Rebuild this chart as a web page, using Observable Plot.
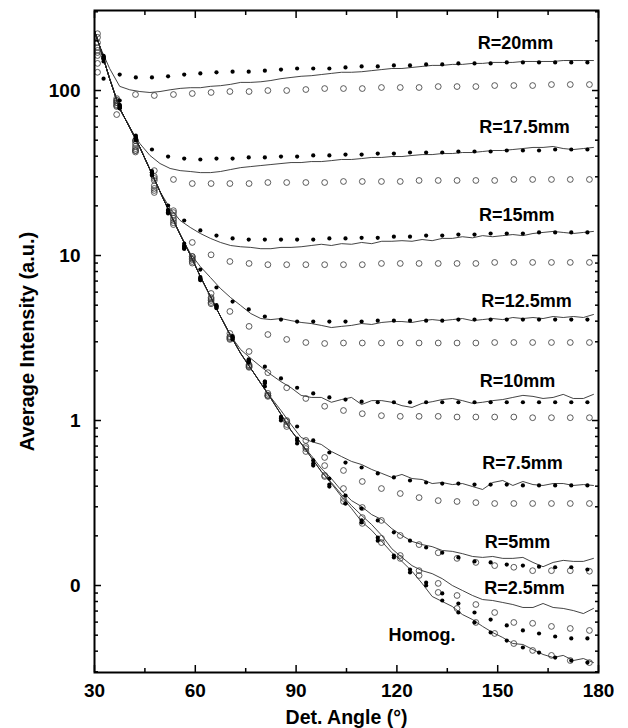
<!DOCTYPE html>
<html><head><meta charset="utf-8">
<script src="https://cdn.jsdelivr.net/npm/d3@7"></script>
<script src="https://cdn.jsdelivr.net/npm/@observablehq/plot@0.6"></script>
<style>body{margin:0;background:#fff}</style>
</head><body><div id="chart"></div>
<script>
// ---------- data ----------
const seriesNames = ["R=20mm","R=17.5mm","R=15mm","R=12.5mm","R=10mm","R=7.5mm","R=5mm","R=2.5mm","Homog."];

const lineAngles = [30,31.5,34.5,37.5,40.5,43.5,46.5,49.5,52.5,55.5,58.5,61.5,64.5,67.5,70.5,73.5,76.5,79.5,82.5,85.5,88.5,91.5,94.5,97.5,100.5,103.5,106.5,109.5,112.5,115.5,118.5,121.5,124.5,127.5,130.5,133.5,136.5,139.5,142.5,145.5,148.5,151.5,154.5,157.5,160.5,163.5,166.5,169.5,172.5,175.5,178.5];
const filledAngles = [32.7,37.5,42.3,47.1,51.9,56.7,61.5,66.3,71.1,75.9,80.7,85.5,90.3,95.1,99.9,104.7,109.5,114.3,119.1,123.9,128.7,133.5,138.3,143.1,147.9,152.7,157.5,162.3,167.1,171.9,176.7];
const openAngles = [30.9,36.6,42.2,47.8,53.5,59.1,64.7,70.3,76.0,81.6,87.2,92.9,98.5,104.1,109.7,115.4,121.0,126.6,132.3,137.9,143.5,149.1,154.8,160.4,166.0,171.6,177.3];

// solid lines
const line20 = [221,187,136,106,101,98.6,97.3,98.6,101,103,104,104,106,107,109,112,112,113,115,118,120,122,123,125,127,129,129,130,132,134,136,136,138,140,142,142,144,144,146,146,148,148,148,150,150,150,150,152,152,152,152];
const line175 = [231,187,118,77.8,59.7,47.7,40.4,36.1,33.7,32.7,32.3,31.8,31.8,32.3,33.2,34.1,34.6,35.1,35.6,36.1,36.6,36.6,37.1,37.1,37.6,38.2,38.2,38.7,39.3,39.3,39.8,39.8,40.4,40.9,40.9,41.5,41.5,42.1,42.1,42.7,43.3,43.3,43.9,44.5,45.2,45.2,45.8,44.5,43.9,44.5,45.2];
const line15 = [231,187,118,77.8,59.7,45.2,33.2,24.4,19.3,16.3,14.8,13.6,12.7,12.0,11.5,11.3,11.2,11.0,11.0,11.2,11.2,11.3,11.5,11.7,11.5,11.8,11.7,12.0,11.8,12.2,12.2,12.3,12.2,12.5,12.3,12.7,12.7,13.0,12.8,13.2,13.0,13.2,13.4,13.2,13.6,13.8,14.0,13.8,13.6,13.8,14.0];
const line125 = [231,187,118,77.8,59.7,45.2,33.2,24.4,18.0,13.4,10.3,8.57,7.36,6.31,5.56,4.98,4.45,4.15,4.09,4.15,4.03,3.93,3.87,3.77,3.66,3.72,3.77,3.87,3.82,3.93,3.98,3.98,3.93,4.03,4.09,4.03,4.09,4.15,4.03,4.09,4.15,4.09,4.21,4.15,4.21,4.15,4.27,4.21,4.27,4.21,4.39];
const line10 = [231,187,118,77.8,59.7,45.2,33.2,24.4,18.0,13.4,10.1,7.46,5.65,4.27,3.27,2.69,2.38,2.12,1.90,1.72,1.58,1.42,1.38,1.38,1.29,1.34,1.38,1.25,1.32,1.32,1.29,1.23,1.20,1.27,1.30,1.34,1.36,1.32,1.27,1.29,1.32,1.34,1.38,1.42,1.40,1.36,1.38,1.44,1.36,1.36,1.44];
const line75 = [231,187,118,77.8,59.7,45.2,33.2,24.4,18.0,13.4,10.1,7.46,5.65,4.27,3.27,2.55,2.07,1.68,1.38,1.15,0.946,0.789,0.746,0.716,0.649,0.605,0.565,0.541,0.505,0.478,0.452,0.471,0.445,0.439,0.415,0.421,0.409,0.415,0.398,0.382,0.421,0.433,0.404,0.427,0.409,0.404,0.415,0.415,0.404,0.409,0.404];
const line5 = [231,187,118,77.8,59.7,45.2,33.2,24.4,18.0,13.4,10.1,7.46,5.65,4.27,3.27,2.55,2.07,1.68,1.36,1.09,0.869,0.726,0.614,0.512,0.445,0.376,0.327,0.301,0.269,0.251,0.221,0.201,0.185,0.177,0.172,0.163,0.161,0.156,0.150,0.148,0.150,0.146,0.146,0.148,0.138,0.130,0.138,0.142,0.140,0.140,0.146];
const line25 = [231,187,118,77.8,59.7,45.2,33.2,24.4,18.0,13.4,10.1,7.46,5.65,4.27,3.27,2.55,2.07,1.68,1.36,1.09,0.869,0.726,0.597,0.491,0.421,0.356,0.305,0.266,0.234,0.201,0.167,0.148,0.132,0.123,0.118,0.110,0.100,0.0933,0.0870,0.0822,0.0811,0.0789,0.0767,0.0736,0.0736,0.0778,0.0736,0.0726,0.0705,0.0676,0.0726];
const lineH = [231,187,118,77.8,59.7,45.2,33.2,24.4,18.0,13.4,10.1,7.46,5.65,4.27,3.27,2.55,2.07,1.68,1.36,1.09,0.869,0.726,0.597,0.491,0.415,0.346,0.293,0.244,0.216,0.185,0.158,0.140,0.122,0.103,0.0858,0.080,0.0746,0.0667,0.0622,0.0565,0.0519,0.0484,0.0445,0.0439,0.0409,0.0382,0.0366,0.0377,0.0351,0.0361,0.0341];

// filled dots
const filled20 = [118,125,120,120,122,125,127,129,130,130,132,134,136,136,136,138,140,140,142,142,144,144,146,146,146,148,148,148,148,148,148];
const filled175 = [150,87,53.4,43.9,39.8,38.7,38.2,38.7,38.7,39.3,39.3,39.8,39.8,40.4,40.4,40.9,40.9,41.5,41.5,42.1,42.1,42.1,42.7,42.7,42.7,43.3,43.3,43.3,43.9,43.9,43.9];
const filled15 = [155,80,51.2,31.8,20.1,16.3,14.2,13.2,12.7,12.5,12.5,12.5,12.5,12.5,12.7,12.7,12.8,12.8,13.0,13.0,13.2,13.2,13.4,13.4,13.6,13.6,13.6,13.8,13.8,13.8,13.8];
const filled125 = [160,82,52,32.5,18.7,11.8,8.22,6.40,5.26,4.71,4.27,4.09,3.98,3.98,3.98,3.98,3.98,4.03,4.03,4.03,4.03,4.03,4.09,4.09,4.09,4.09,4.09,4.09,4.09,4.09,4.09];
const filled10 = [158,79,50.5,31.2,18.3,11.3,7.26,4.91,3.19,2.31,2.12,1.80,1.58,1.46,1.38,1.34,1.30,1.29,1.29,1.29,1.29,1.29,1.29,1.29,1.29,1.29,1.29,1.29,1.29,1.29,1.29];
const filled75 = [162,81,51.8,31.8,18.9,11.5,7.4,5.0,3.25,2.35,1.72,1.05,0.92,0.757,0.64,0.556,0.519,0.478,0.452,0.433,0.421,0.415,0.415,0.409,0.409,0.409,0.404,0.404,0.404,0.404,0.404];
const filled5 = [157,78,50,30.5,18.0,11.0,7.1,4.8,3.12,2.28,1.68,1.05,0.778,0.573,0.445,0.351,0.293,0.248,0.210,0.187,0.170,0.158,0.148,0.140,0.138,0.134,0.132,0.130,0.129,0.129,0.125];
const filled25 = [160,80,51.2,31.8,18.7,11.3,7.26,4.91,3.19,2.31,1.72,1.0,0.757,0.548,0.409,0.314,0.248,0.195,0.152,0.125,0.104,0.0895,0.0778,0.0686,0.0622,0.0573,0.0534,0.0512,0.0491,0.0478,0.0478];
const filledH = [155,78,50,31,18.2,11.0,7.1,4.8,3.1,2.25,1.61,1.03,0.726,0.533,0.398,0.314,0.241,0.187,0.148,0.120,0.100,0.0811,0.0686,0.0597,0.0519,0.0464,0.0421,0.0392,0.0366,0.0351,0.0341];

// open circles
const open20 = [129,71.5,94.6,93.3,94.6,95.9,97.3,98.6,98.6,100,100,101.4,102.8,102.8,102.8,104.3,104.3,104.3,105.7,105.7,105.7,107.2,107.2,107.2,108.7,108.7,108.7];
const open175 = [146,87,49.7,32.7,28.9,27.3,27.3,27.3,27.3,27.7,27.7,27.7,27.7,28.1,28.1,28.1,28.1,28.5,28.5,28.5,28.5,28.5,28.9,28.9,28.9,28.9,28.9];
const open15 = [163,84.5,43.3,28.5,18.7,12.0,10.1,9.2,8.95,8.8,8.8,8.8,8.8,8.8,8.8,8.95,8.95,8.95,8.95,8.95,8.95,9.08,9.08,9.08,9.08,9.08,9.08];
const open125 = [182,87,47.7,29.3,18.2,9.86,5.89,4.58,3.72,3.32,3.10,2.97,2.93,2.95,2.95,2.95,2.95,2.95,2.95,2.95,2.95,2.97,2.97,2.97,2.97,2.97,2.97];
const open10 = [210,84.5,45.9,26.5,16.8,9.86,5.56,3.37,2.62,1.95,1.58,1.36,1.22,1.15,1.10,1.07,1.06,1.06,1.06,1.05,1.05,1.05,1.05,1.04,1.04,1.04,1.04];
const open75 = [195,82.2,44.5,25.5,16.3,9.45,5.34,3.19,2.18,1.42,1.0,0.757,0.597,0.498,0.427,0.387,0.361,0.341,0.327,0.323,0.318,0.314,0.314,0.314,0.314,0.314,0.314];
const open5 = [175,81.1,43.3,24.8,15.8,9.2,5.19,3.14,2.12,1.40,0.946,0.695,0.533,0.387,0.297,0.248,0.201,0.177,0.158,0.146,0.138,0.132,0.129,0.123,0.123,0.123,0.122];
const open25 = [170,80.0,42.4,24.1,15.4,9.0,5.1,3.1,2.10,1.42,0.986,0.676,0.458,0.337,0.258,0.193,0.152,0.123,0.103,0.0870,0.0767,0.0686,0.0597,0.0590,0.0565,0.0549,0.0534];
const openH = [221,89.4,49.7,30.1,17.5,9.6,5.45,3.23,2.15,1.46,0.92,0.649,0.465,0.323,0.238,0.182,0.146,0.115,0.0908,0.0726,0.0597,0.0512,0.0445,0.0404,0.0377,0.0351,0.0341];

// curve labels
const labelText = ["R=20mm","R=17.5mm","R=15mm","R=12.5mm","R=10mm","R=7.5mm","R=5mm","R=2.5mm","Homog."];
const labelAngle = [155.3,158,155.7,158.6,155.9,157.4,155.9,158,127.5];
const labelValue = [193,59.7,17.5,5.26,1.72,0.548,0.182,0.096,0.0498];

// axis ticks
const xMajor = [30,60,90,120,150,180];
const xMinor = [45,75,105,135,165];
const yMajor = [0.1,1,10,100];
const yTickLabels = ["0","1","10","100"];
const yMinor = [0.03,0.04,0.05,0.06,0.07,0.08,0.09,0.2,0.3,0.4,0.5,0.6,0.7,0.8,0.9,2,3,4,5,6,7,8,9,20,30,40,50,60,70,80,90,200,300];

// ---------- tidy tables ----------
const lineSets = [line20,line175,line15,line125,line10,line75,line5,line25,lineH];
const filledSets = [filled20,filled175,filled15,filled125,filled10,filled75,filled5,filled25,filledH];
const openSets = [open20,open175,open15,open125,open10,open75,open5,open25,openH];
const tidy = (sets, angles) => sets.flatMap((vals, i) => {
  if (vals.length !== angles.length) console.warn("length mismatch", seriesNames[i], vals.length, angles.length);
  return vals.map((v, j) => ({s: seriesNames[i], a: angles[j], v}));
});
const lines = tidy(lineSets, lineAngles);
const filled = tidy(filledSets, filledAngles);
const opens = tidy(openSets, openAngles);
const labels = labelText.map((t, i) => ({t, a: labelAngle[i], v: labelValue[i]}));

const font = "'Liberation Sans', Arial, Helvetica, sans-serif";
const chart = Plot.plot({
  width: 628, height: 728,
  marginLeft: 94, marginRight: 30, marginTop: 10, marginBottom: 56,
  x: {domain: [30, 180]},
  y: {type: "log", domain: [0.0297, 305.5]},
  style: {fontFamily: font, fontWeight: "bold", color: "black", background: "white", fontSize: "19px"},
  marks: [
    Plot.line(lines, {x: "a", y: "v", z: "s", stroke: "#222", strokeWidth: 0.85}),
    Plot.dot(opens, {x: "a", y: "v", r: 2.9, stroke: "#333", strokeWidth: 0.8, fill: "none"}),
    Plot.dot(filled, {x: "a", y: "v", r: 2.1, fill: "#000", stroke: "none"}),
    Plot.text(labels, {x: "a", y: "v", text: "t", fontSize: 18, fontWeight: "bold", fill: "black"}),
    // inward ticks
    Plot.axisX(xMajor, {anchor: "bottom", tickSize: 7, dy: -7, fill: "none", label: null, strokeWidth: 1.5}),
    Plot.axisX(xMinor, {anchor: "bottom", tickSize: 4, dy: -4, fill: "none", label: null, strokeWidth: 1.5}),
    Plot.axisX(xMajor, {anchor: "top", tickSize: 7, dy: 7, fill: "none", label: null, strokeWidth: 1.5}),
    Plot.axisX(xMinor, {anchor: "top", tickSize: 4, dy: 4, fill: "none", label: null, strokeWidth: 1.5}),
    Plot.axisY(yMajor, {anchor: "left", tickSize: 7, dx: 7, fill: "none", label: null, strokeWidth: 1.5}),
    Plot.axisY(yMinor, {anchor: "left", tickSize: 4, dx: 4, fill: "none", label: null, strokeWidth: 1.5}),
    Plot.axisY(yMajor, {anchor: "right", tickSize: 7, dx: -7, fill: "none", label: null, strokeWidth: 1.5}),
    Plot.axisY(yMinor, {anchor: "right", tickSize: 4, dx: -4, fill: "none", label: null, strokeWidth: 1.5}),
    // tick labels
    Plot.axisX(xMajor, {anchor: "bottom", tickSize: 0, tickPadding: 11, label: null, fontSize: 19, tickFormat: d => String(d)}),
    Plot.axisY(yMajor, {anchor: "left", tickSize: 0, tickPadding: 14, label: null, fontSize: 19, tickFormat: d => yTickLabels[yMajor.indexOf(d)]}),
    // axis titles
    Plot.text(["Average Intensity (a.u.)"], {frameAnchor: "left", textAnchor: "middle", lineAnchor: "middle", dx: -67, rotate: -90, fontSize: 20, fontWeight: "bold", fill: "black"}),
    Plot.text(["Det. Angle (°)"], {frameAnchor: "bottom", textAnchor: "middle", lineAnchor: "middle", dy: 45, fontSize: 19.5, fontWeight: "bold", fill: "black"}),
    Plot.frame({stroke: "black", strokeWidth: 2})
  ]
});
document.getElementById("chart").appendChild(chart);
</script>
</body></html>
